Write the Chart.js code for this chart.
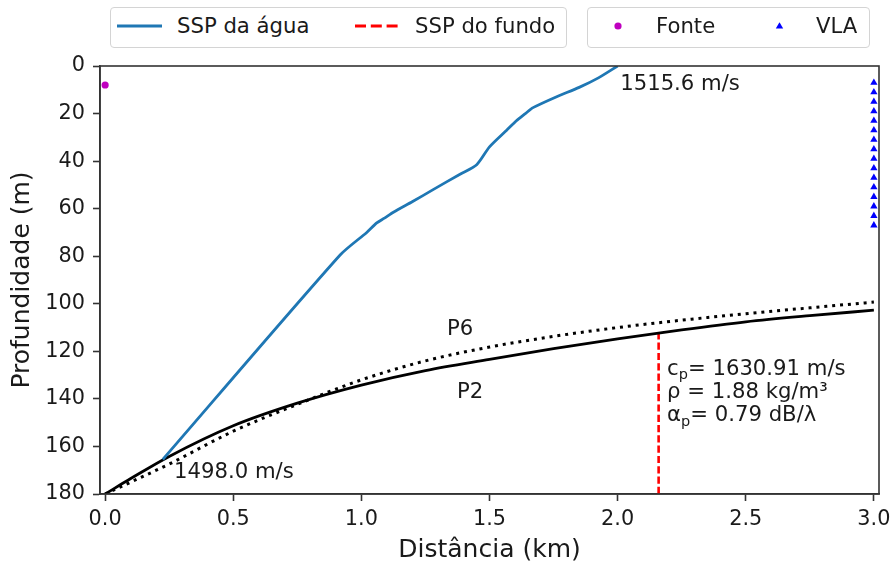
<!DOCTYPE html>
<html>
<head>
<meta charset="utf-8">
<script src="https://cdn.jsdelivr.net/npm/chart.js@4.4.1/dist/chart.umd.min.js"></script>
<style>
  html, body { margin: 0; padding: 0; background: #fff; }
  #wrap { position: relative; width: 891px; height: 568px; font-family: "DejaVu Sans", sans-serif; color: #1a1a1a; }
  #c { position: absolute; left: 0; top: 0; }
  .box { position: absolute; top: 7px; height: 41px; border: 1px solid #d4d4d4; border-radius: 4px; background: #fff; box-sizing: border-box; }
  .lt { position: absolute; top: 14px; font-size: 21.2px; line-height: 24px; white-space: nowrap; }
  #marks { position: absolute; left: 0; top: 0; pointer-events: none; }
</style>
</head>
<body>
<div id="wrap">
  <canvas id="c" width="891" height="568"></canvas>
  <div class="box" style="left:110px; width:457px;"></div>
  <div class="box" style="left:587px; width:283px;"></div>
  <svg id="marks" width="891" height="60">
    <line x1="117" y1="26" x2="162" y2="26" stroke="#1f77b4" stroke-width="3"/>
    <line x1="355" y1="26" x2="398" y2="26" stroke="#ff0000" stroke-width="3" stroke-dasharray="11 4.8"/>
    <circle cx="618" cy="26" r="3.6" fill="#bf00bf"/>
    <polygon points="779.5,22.2 783.2,28.4 775.8,28.4" fill="#0000ff"/>
  </svg>
  <span class="lt" style="left:177px;">SSP da água</span>
  <span class="lt" style="left:415px;">SSP do fundo</span>
  <span class="lt" style="left:656px;">Fonte</span>
  <span class="lt" style="left:816px;">VLA</span>
</div>
<script>
// Water sound-speed profile, drawn along the range axis (km) against depth (m)
const sspDistance = [2.00, 1.925, 1.85, 1.76, 1.67, 1.64, 1.605, 1.567, 1.50, 1.45, 1.385, 1.28, 1.20, 1.125, 1.09, 1.06, 1.021, 0.917, 0.225];
const sspDepth    = [0,    5,     9,    13,   17.5, 20,   23,    27,    34,   41.5, 45.5,  52,   57,   61.5,  64,   66,   70,    79.5,  165.5];

// Bottom interface, profile P2 (solid) and profile P6 (dotted)
const bottomDistance = [0, 0.1, 0.25, 0.5, 0.75, 1.0, 1.25, 1.5, 1.75, 2.0, 2.25, 2.5, 2.75, 3.0];
const p2Depth = [180, 173.5, 164.2, 151.3, 141.8, 134.2, 128.1, 123.4, 118.9, 114.8, 111.0, 107.6, 105.0, 102.7];
const p6Depth = [180, 175.0, 167.4, 153.6, 142.3, 132.0, 124.0, 118.2, 113.7, 110.0, 106.9, 104.2, 101.7, 99.3];

// Bottom sound-speed marker (vertical)
const seabedDistance = [2.16, 2.16];
const seabedDepth = [112, 180];

// Source and vertical line array
const sourceDistance = [0];
const sourceDepth = [8];
const vlaDistance = [3.0, 3.0, 3.0, 3.0, 3.0, 3.0, 3.0, 3.0, 3.0, 3.0, 3.0, 3.0, 3.0, 3.0, 3.0, 3.0];
const vlaDepth = [7, 11, 15, 19, 23, 27, 31, 35, 39, 43, 47, 51, 55, 59, 63, 67];

// Axis ticks
const xTicks = [0, 0.5, 1.0, 1.5, 2.0, 2.5, 3.0];
const yTicks = [0, 20, 40, 60, 80, 100, 120, 140, 160, 180];

// Text labels
const sspTopLabel = '1515.6 m/s';
const sspBottomLabel = '1498.0 m/s';
const p6Label = 'P6';
const p2Label = 'P2';
const cpValue = '1630.91 m/s';
const rhoValue = '1.88 kg/m³';
const alphaValue = '0.79 dB/λ';

const pts = (xs, ys) => xs.map((x, i) => ({ x: x, y: ys[i] }));

const FONT = '"DejaVu Sans", sans-serif';
const INK = '#1a1a1a';

// Text notes placed in data coordinates; segments marked sub are drawn as subscripts
const notes = [
  { x: 2.01,  y: 10.0,  align: 'left',   segs: [[sspTopLabel]] },
  { x: 0.269, y: 173.1, align: 'left',   segs: [[sspBottomLabel]] },
  { x: 1.385, y: 113.0, align: 'center', segs: [[p6Label]] },
  { x: 1.424, y: 139.5, align: 'center', segs: [[p2Label]] },
  { x: 2.193, y: 129.8, align: 'left',   segs: [['c'], ['p', true], ['= ' + cpValue]] },
  { x: 2.193, y: 139.6, align: 'left',   segs: [['ρ = ' + rhoValue]] },
  { x: 2.193, y: 149.5, align: 'left',   segs: [['α'], ['p', true], ['= ' + alphaValue]] }
];

const notesPlugin = {
  id: 'notes',
  afterDatasetsDraw(chart) {
    const { ctx, scales } = chart;
    const size = 21.2, subSize = 14.5;
    ctx.save();
    ctx.fillStyle = INK;
    ctx.textBaseline = 'alphabetic';
    ctx.textAlign = 'left';
    notes.forEach(n => {
      let total = 0;
      n.segs.forEach(s => {
        ctx.font = (s[1] ? subSize : size) + 'px ' + FONT;
        total += ctx.measureText(s[0]).width;
      });
      let px = scales.x.getPixelForValue(n.x);
      const py = scales.y.getPixelForValue(n.y);
      if (n.align === 'center') px -= total / 2;
      n.segs.forEach(s => {
        ctx.font = (s[1] ? subSize : size) + 'px ' + FONT;
        ctx.fillText(s[0], px, s[1] ? py + 4.5 : py);
        px += ctx.measureText(s[0]).width;
      });
    });
    ctx.restore();
  }
};

// Full frame around the plotting area
const framePlugin = {
  id: 'frame',
  afterDraw(chart) {
    const { ctx, chartArea: a } = chart;
    ctx.save();
    ctx.strokeStyle = '#333';
    ctx.lineWidth = 1.6;
    ctx.strokeRect(a.left, a.top, a.right - a.left, a.bottom - a.top);
    ctx.restore();
  }
};

const tickFont = { family: FONT, size: 20.8 };
const titleFont = { family: FONT, size: 25 };

new Chart(document.getElementById('c'), {
  type: 'scatter',
  data: {
    datasets: [
      { label: 'SSP da água', data: pts(sspDistance, sspDepth), showLine: true, borderColor: '#1f77b4', borderWidth: 2.8, pointRadius: 0, tension: 0.25 },
      { label: 'P2', data: pts(bottomDistance, p2Depth), showLine: true, borderColor: '#000', borderWidth: 2.8, pointRadius: 0, cubicInterpolationMode: 'monotone' },
      { label: 'P6', data: pts(bottomDistance, p6Depth), showLine: true, borderColor: '#000', borderWidth: 3, borderDash: [3, 4.9], borderCapStyle: 'butt', pointRadius: 0, cubicInterpolationMode: 'monotone' },
      { label: 'SSP do fundo', data: pts(seabedDistance, seabedDepth), showLine: true, borderColor: '#ff0000', borderWidth: 2.6, borderDash: [7.2, 3.1], pointRadius: 0 },
      { label: 'Fonte', data: pts(sourceDistance, sourceDepth), showLine: false, pointStyle: 'circle', pointRadius: 3.6, pointBackgroundColor: '#bf00bf', pointBorderWidth: 0 },
      { label: 'VLA', data: pts(vlaDistance, vlaDepth), showLine: false, pointStyle: 'triangle', pointRadius: 4.2, pointBackgroundColor: '#0000ff', pointBorderWidth: 0 }
    ]
  },
  options: {
    responsive: false,
    devicePixelRatio: 1,
    animation: false,
    layout: { padding: { left: 0, right: 12, top: 66, bottom: 0 } },
    plugins: { legend: { display: false }, tooltip: { enabled: false } },
    scales: {
      x: {
        type: 'linear', min: -0.02, max: 3.02,
        afterBuildTicks: s => { s.ticks = xTicks.map(v => ({ value: v })); },
        afterFit: s => { s.height = 74; s.paddingLeft = 0; s.paddingRight = 0; },
        ticks: { callback: v => Number(v).toFixed(1), font: tickFont, color: INK, padding: 6, maxRotation: 0, autoSkip: false },
        grid: { display: true, drawOnChartArea: false, drawTicks: true, tickLength: 7, tickWidth: 1.6, tickColor: '#333' },
        border: { display: true, color: '#333', width: 1.6 },
        title: { display: true, text: 'Distância (km)', font: titleFont, color: INK, padding: { top: 0, bottom: 3 } }
      },
      y: {
        type: 'linear', min: 0, max: 180, reverse: true,
        afterBuildTicks: s => { s.ticks = yTicks.map(v => ({ value: v })); },
        afterFit: s => { s.width = 100; s.paddingTop = 0; s.paddingBottom = 0; },
        ticks: { font: tickFont, color: INK, padding: 8, autoSkip: false },
        grid: { display: true, drawOnChartArea: false, drawTicks: true, tickLength: 7, tickWidth: 1.6, tickColor: '#333' },
        border: { display: true, color: '#333', width: 1.6 },
        title: { display: true, text: 'Profundidade (m)', font: titleFont, color: INK, padding: { top: 7, bottom: 0 } }
      }
    }
  },
  plugins: [notesPlugin, framePlugin]
});
</script>
</body>
</html>
